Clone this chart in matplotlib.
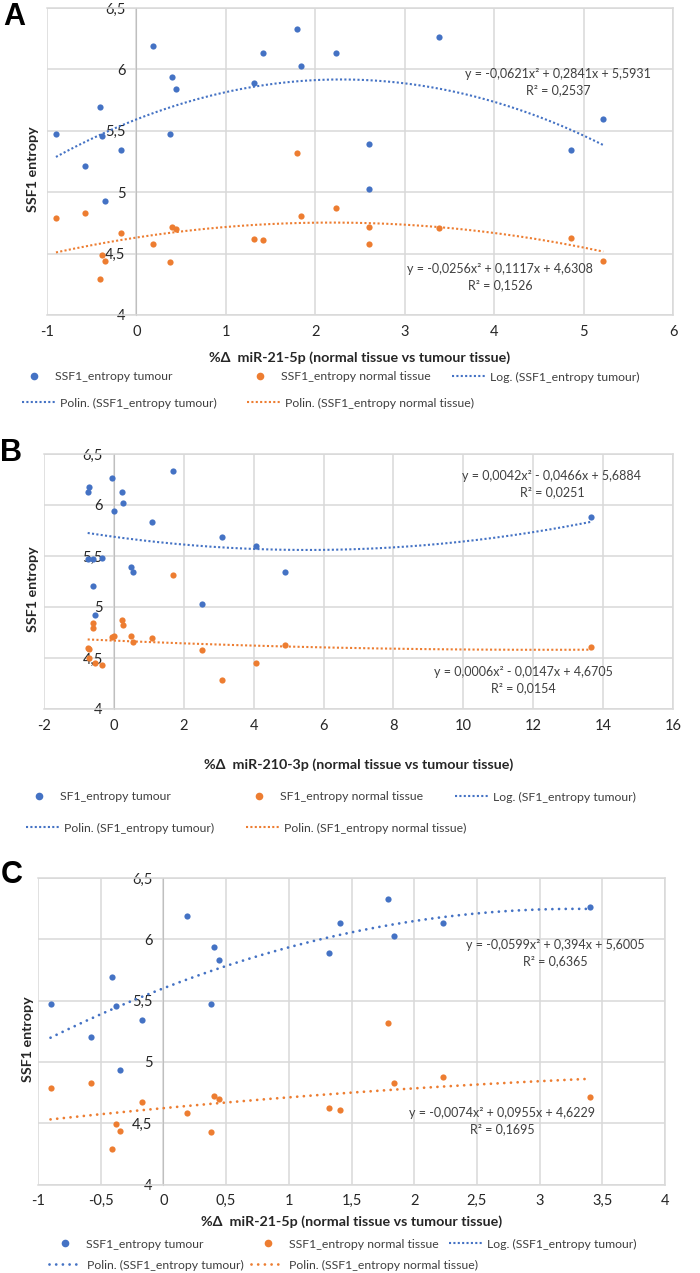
import numpy as np
import matplotlib.pyplot as plt
from matplotlib.lines import Line2D
from matplotlib.ticker import MultipleLocator, FuncFormatter

plt.rcParams['font.family'] = ['Lato', 'DejaVu Sans']

BLUE = '#4472C4'
ORANGE = '#ED7D31'
GRID = '#d9d9d9'
TXT = '#404040'

# --- A: miR-21-5p ---
a_x = [-0.90, -0.58, -0.41, -0.38, -0.35, -0.17, 0.19, 0.40, 0.44, 0.38,
       1.32, 1.41, 1.79, 1.84, 2.23, 3.38, 2.60, 2.60, 4.86, 5.22]
a_tum = [5.47, 5.21, 5.69, 5.46, 4.93, 5.34, 6.19, 5.94, 5.84, 5.47,
         5.89, 6.13, 6.33, 6.03, 6.13, 6.26, 5.39, 5.03, 5.34, 5.60]
a_nor = [4.79, 4.83, 4.29, 4.49, 4.44, 4.67, 4.58, 4.72, 4.70, 4.43,
         4.62, 4.61, 5.32, 4.81, 4.87, 4.71, 4.72, 4.58, 4.63, 4.44]
a_coef_tum = [-0.0621, 0.2841, 5.5931]
a_coef_nor = [-0.0256, 0.1117, 4.6308]
a_eq_tum = 'y = -0,0621x² + 0,2841x + 5,5931\nR² = 0,2537'
a_eq_nor = 'y = -0,0256x² + 0,1117x + 4,6308\nR² = 0,1526'

# --- B: miR-210-3p ---
b_x_tum = [-0.75, -0.72, -0.74, -0.61, -0.34, -0.61, -0.55, -0.06, 0.00, 0.22,
           0.25, 0.49, 0.56, 1.08, 1.70, 2.53, 3.09, 4.08, 4.89, 13.65]
b_tum = [6.13, 6.18, 5.47, 5.47, 5.48, 5.21, 4.92, 6.26, 5.94, 6.13,
         6.02, 5.39, 5.34, 5.83, 6.33, 5.03, 5.69, 5.60, 5.34, 5.88]
b_x_nor = [-0.75, -0.70, -0.72, -0.55, -0.34, -0.61, -0.61, -0.06, 0.00, 0.22,
           0.25, 0.49, 0.56, 1.08, 1.70, 2.53, 3.09, 4.08, 4.89, 13.65]
b_nor = [4.60, 4.59, 4.50, 4.45, 4.43, 4.84, 4.79, 4.71, 4.72, 4.87,
         4.82, 4.72, 4.66, 4.70, 5.31, 4.58, 4.28, 4.45, 4.63, 4.61]
b_coef_tum = [0.0042, -0.0466, 5.6884]
b_coef_nor = [0.0006, -0.0147, 4.6705]
b_eq_tum = 'y = 0,0042x² - 0,0466x + 5,6884\nR² = 0,0251'
b_eq_nor = 'y = 0,0006x² - 0,0147x + 4,6705\nR² = 0,0154'

# --- C: miR-21-5p (subset) ---
c_x = [-0.90, -0.58, -0.41, -0.38, -0.35, -0.17, 0.19, 0.40, 0.44, 0.38,
       1.32, 1.41, 1.79, 1.84, 2.23, 3.40]
c_tum = [5.47, 5.20, 5.69, 5.46, 4.93, 5.34, 6.19, 5.94, 5.83, 5.47,
         5.89, 6.13, 6.33, 6.03, 6.13, 6.26]
c_nor = [4.79, 4.83, 4.29, 4.49, 4.44, 4.67, 4.58, 4.72, 4.70, 4.43,
         4.62, 4.61, 5.32, 4.83, 4.88, 4.71]
c_coef_tum = [-0.0599, 0.394, 5.6005]
c_coef_nor = [-0.0074, 0.0955, 4.6229]
c_eq_tum = 'y = -0,0599x² + 0,394x + 5,6005\nR² = 0,6365'
c_eq_nor = 'y = -0,0074x² + 0,0955x + 4,6229\nR² = 0,1695'

W, H = 700, 1273
fig = plt.figure(figsize=(W / 100, H / 100), dpi=100)


def fx(px):
    return px / W


def fy(py):
    return 1 - py / H


def comma(v, pos):
    return f'{v:g}'.replace('.', ',')


SQ_DOT = (0, (1, 1.1))
ROUND_DOT = (0, (0.01, 2.4))


def panel(box, letter, xt, yt, xn, yn, ct, cn, xlim, xstep, eq_t, eq_pos_t, eq_n, eq_pos_n,
          xlabel, xlab_y, ylab_x, series, leg_y, leg_x, big_dots=False):
    l, r, t, b = box
    ax = fig.add_axes([fx(l), fy(b), fx(r - l), (b - t) / H])
    ax.set_xlim(xlim)
    ax.set_ylim(4, 6.5)
    ax.xaxis.set_major_locator(MultipleLocator(xstep))
    ax.yaxis.set_major_locator(MultipleLocator(0.5))
    ax.xaxis.set_major_formatter(FuncFormatter(comma))
    ax.yaxis.set_major_formatter(FuncFormatter(comma))
    ax.grid(True, color=GRID, lw=1.1)
    ax.set_axisbelow(True)
    for s in ['top', 'right', 'bottom']:
        ax.spines[s].set_color(GRID)
        ax.spines[s].set_linewidth(1.1)
    ax.spines['left'].set_position(('data', 0))
    ax.spines['left'].set_color('#bfbfbf')
    ax.tick_params(axis='both', length=0, labelsize=10.5, colors='#262626')
    ax.tick_params(axis='y', pad=8)
    ax.tick_params(axis='x', pad=7)

    if big_dots:
        tr_kw = dict(lw=2.0, ls=ROUND_DOT, dash_capstyle='round')
    else:
        tr_kw = dict(lw=1.5, ls=SQ_DOT)
    xs = np.linspace(min(xt), max(xt), 200)
    ax.plot(xs, np.polyval(ct, xs), color=BLUE, zorder=3, **tr_kw)
    xs = np.linspace(min(xn), max(xn), 200)
    ax.plot(xs, np.polyval(cn, xs), color=ORANGE, zorder=3, **tr_kw)
    ax.scatter(xt, yt, s=20, color=BLUE, linewidths=0, zorder=4)
    ax.scatter(xn, yn, s=20, color=ORANGE, linewidths=0, zorder=4)

    fig.text(fx(eq_pos_t[0]), fy(eq_pos_t[1]), eq_t, ha='center', va='center',
             fontsize=9, color=TXT, linespacing=1.35)
    fig.text(fx(eq_pos_n[0]), fy(eq_pos_n[1]), eq_n, ha='center', va='center',
             fontsize=9, color=TXT, linespacing=1.35)

    fig.text(fx((l + r) / 2), fy(xlab_y), xlabel, ha='center', va='center',
             fontsize=10.3, fontweight='bold', color='#262626')
    fig.text(fx(ylab_x), fy((t + b) / 2 + 8), 'SSF1 entropy', ha='center', va='center',
             rotation=90, fontsize=10.3, fontweight='bold', color='#262626')
    fig.text(fx(letter[1]), fy(letter[2]), letter[0], ha='center', va='center',
             fontsize=22, fontweight='bold', family='Liberation Sans')

    # legend entries, Excel style: two rows
    small = dict(lw=1.5, ls=SQ_DOT)
    handles = [
        Line2D([], [], ls='none', marker='o', ms=5.5, color=BLUE, mew=0),
        Line2D([], [], ls='none', marker='o', ms=5.5, color=ORANGE, mew=0),
        Line2D([], [], color=BLUE, **small),
        Line2D([], [], color=BLUE, **tr_kw),
        Line2D([], [], color=ORANGE, **tr_kw),
    ]
    rows = [leg_y[0], leg_y[0], leg_y[0], leg_y[1], leg_y[1]]
    for h, lab, xp, yp in zip(handles, series, leg_x, rows):
        fig.legend([h], [lab], loc='center left', bbox_to_anchor=(fx(xp), fy(yp)),
                   frameon=False, borderpad=0, borderaxespad=0, handlelength=2.7,
                   handletextpad=0.4, fontsize=8.8, labelcolor='#404040')
    return ax


ser_ss = ['SSF1_entropy tumour', 'SSF1_entropy normal tissue', 'Log. (SSF1_entropy tumour)',
          'Polin. (SSF1_entropy tumour)', 'Polin. (SSF1_entropy normal tissue)']
ser_s = ['SF1_entropy tumour', 'SF1_entropy normal tissue', 'Log. (SF1_entropy tumour)',
         'Polin. (SF1_entropy tumour)', 'Polin. (SF1_entropy normal tissue)']

panel((47, 673, 8, 315), ('A', 14, 17), a_x, a_tum, a_x, a_nor, a_coef_tum, a_coef_nor,
      (-1, 6), 1, a_eq_tum, (558, 82), a_eq_nor, (500, 277),
      '%Δ  miR-21-5p (normal tissue vs tumour tissue)', 358, 33,
      ser_ss, (377, 403), (17, 243, 452, 22, 247))

panel((44, 673, 454, 709), ('B', 11, 453), b_x_tum, b_tum, b_x_nor, b_nor, b_coef_tum, b_coef_nor,
      (-2, 16), 2, b_eq_tum, (552, 484), b_eq_nor, (523, 680),
      '%Δ  miR-210-3p (normal tissue vs tumour tissue)', 765, 33,
      ser_s, (797, 828), (22, 242, 455, 26, 246))

panel((38, 665, 878, 1184.5), ('C', 12, 875), c_x, c_tum, c_x, c_nor, c_coef_tum, c_coef_nor,
      (-1, 4), 0.5, c_eq_tum, (555, 953), c_eq_nor, (502, 1121),
      '%Δ  miR-21-5p (normal tissue vs tumour tissue)', 1222, 28,
      ser_ss, (1244, 1265), (48, 251, 449, 49, 251), big_dots=True)

fig.savefig('out.png', dpi=100)
